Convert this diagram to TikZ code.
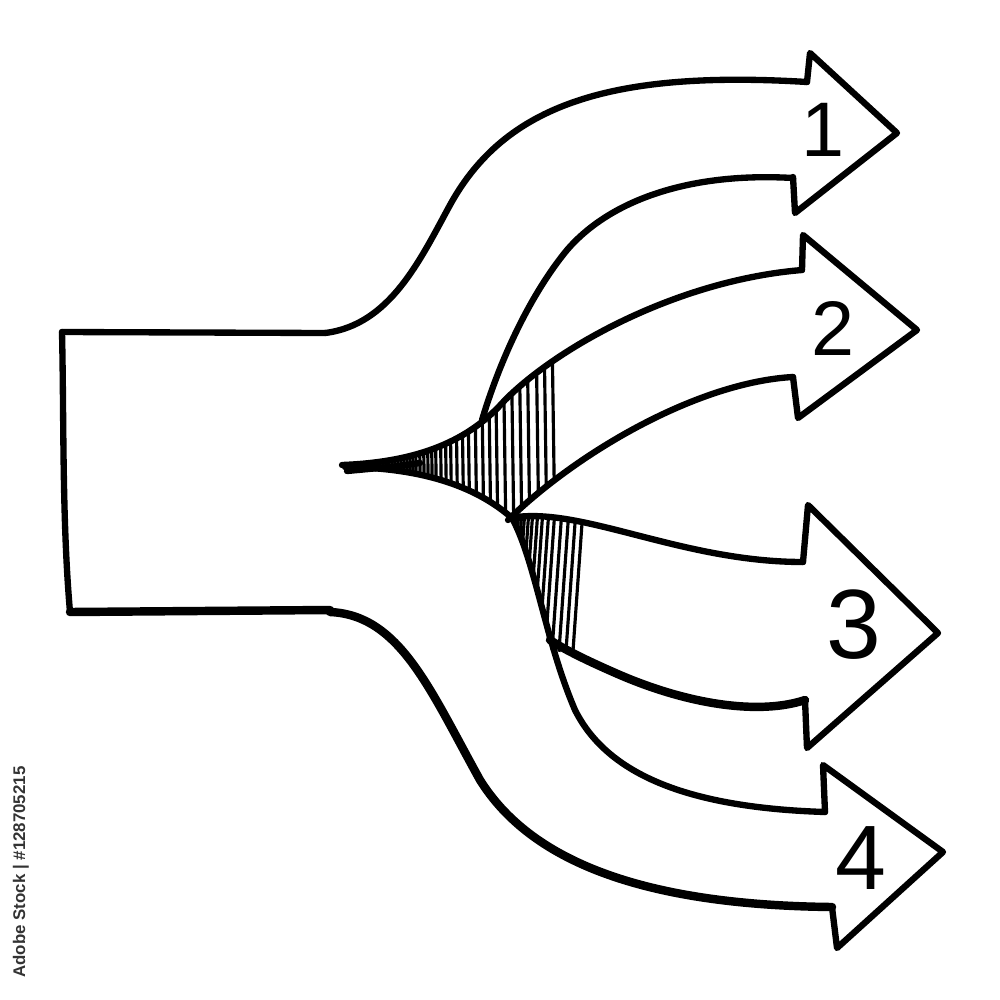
\documentclass[tikz,border=0pt]{standalone}
\usepackage{fontspec}
\setsansfont{Liberation Sans}

\tikzset{
  pen/.style={line width=1.8pt, line cap=round, line join=round},
  heavy/.style={pen, line width=2.4pt},
  hatch/.style={line width=0.9pt},
  numeral/.style={font=\sffamily\fontsize{22}{22}\selectfont},
}

\begin{document}
\begin{tikzpicture}[x=0.01cm, y=-0.01cm]
\useasboundingbox (0,0) rectangle (1000,1000);

% hatching on the tail of arrow 2
\begin{scope}
\clip (342,465) .. controls (420,462) and (470,440) .. (505,400) .. controls (560,345) and (680,280) .. (800,268)
  -- (790,378) .. controls (700,382) and (580,450) .. (512,518) .. controls (480,490) and (430,468) .. (345,467) -- cycle;
\foreach \x in {368,372,375,378,381,384,387,390,393,396,399,402,405,408,411,414,418,422,426,430,434,439,444,449,455,461,467,474,481,488,495,503,511,519,527,536,544,552}
  \draw[hatch] (\x,330) -- (\x+3,540);
\end{scope}

% hatching on the tail of arrow 3
\begin{scope}
\clip (512,518) .. controls (580,505) and (680,562) .. (805,562) -- (805,700) -- (550,650)
  .. controls (540,610) and (530,555) .. (512,518) -- cycle;
\foreach \x in {514,517,520,523,526,530,534,539,544,550,556,563,570,577,584}
  \draw[hatch] (\x,495) -- (\x-12,665);
\end{scope}

% trunk
\draw[pen] (62,332) -- (325,333);
\draw[pen] (62,332) .. controls (64,420) and (62,520) .. (70,612);
\draw[heavy] (70,612) -- (330,610);

% arrow 1
\draw[pen] (325,333) .. controls (390,325) and (420,260) .. (450,205) .. controls (505,105) and (610,70) .. (807,82);
\draw[pen] (807,82) -- (810,53) -- (897,133) -- (795,213) -- (793,177);
\draw[pen] (793,178) .. controls (690,172) and (610,200) .. (567,250) .. controls (530,295) and (500,360) .. (482,420);

% arrow 2
\draw[pen] (342,465) .. controls (420,462) and (470,440) .. (505,400) .. controls (560,345) and (680,280) .. (802,270);
\draw[pen] (347,471) .. controls (380,468) and (400,466) .. (420,463);
\draw[pen] (802,270) -- (803,235) -- (917,330) -- (798,418) -- (793,377);
\draw[pen] (793,377) .. controls (700,382) and (580,450) .. (508,520);

% arrow 3
\draw[pen] (510,518) .. controls (580,505) and (680,562) .. (803,562);
\draw[pen] (803,562) -- (808,505) -- (938,633) -- (807,748) -- (805,700);
\draw[heavy] (805,700) .. controls (760,715) and (690,705) .. (620,675) .. controls (590,662) and (565,650) .. (550,640);

% arrow 4
\draw[pen] (345,467) .. controls (430,468) and (480,490) .. (512,518) .. controls (535,560) and (545,640) .. (575,710)
  .. controls (610,780) and (700,808) .. (825,812);
\draw[pen] (825,812) -- (823,765) -- (943,852) -- (837,948) -- (832,907);
\draw[heavy] (832,907) .. controls (640,905) and (530,860) .. (480,780) .. controls (430,690) and (400,615) .. (330,612);

% numbers
\node[numeral] (num1) at (823,130) {1};
\node[numeral] (num2) at (833,328) {2};
\node[numeral, font=\sffamily\fontsize{28}{28}\selectfont] (num3) at (854,625) {3};
\node[numeral, font=\sffamily\fontsize{26}{26}\selectfont] (num4) at (861,858) {4};

% stock mark
\node[rotate=90, text=black!80, font=\sffamily\bfseries\fontsize{4.8}{5}\selectfont] (stock) at (21,872) {Adobe Stock | \#128705215};
\end{tikzpicture}
\end{document}
